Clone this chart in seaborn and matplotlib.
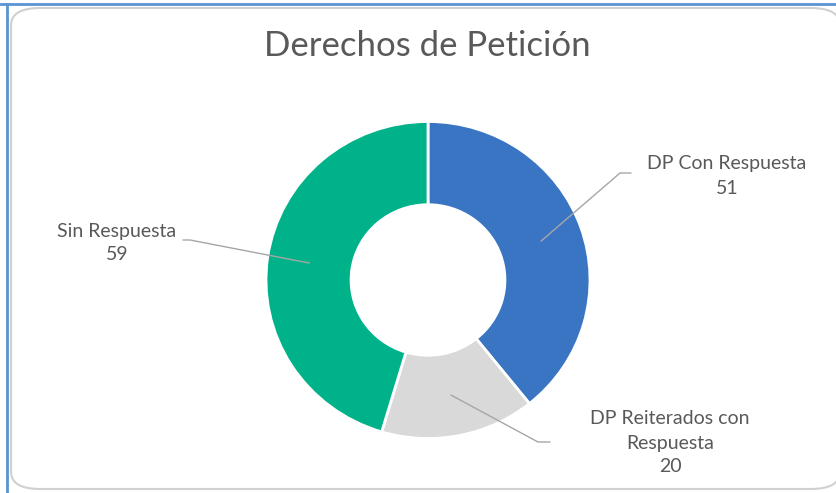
import numpy as np
import matplotlib
matplotlib.use("Agg")
import matplotlib.pyplot as plt
from matplotlib.patches import FancyBboxPatch
import seaborn as sns

# ---- data ----
categories = ["DP Con Respuesta", "DP Reiterados con\nRespuesta", "Sin Respuesta"]
values = [51, 20, 59]
colors = ["#3A75C4", "#D9D9D9", "#00B28A"]
title = "Derechos de Petición"

sns.set_theme(style="white")
plt.rcParams['font.family'] = ['Lato', 'DejaVu Sans']

W, H = 837, 493
fig = plt.figure(figsize=(W / 100, H / 100), dpi=100)
fig.patch.set_facecolor("white")

def fx(px): return px / W
def fy(py): return 1 - py / H

frame = FancyBboxPatch((fx(11), fy(489)), fx(840) - fx(11), fy(8) - fy(489),
                       boxstyle="round,pad=0,rounding_size=0.035",
                       transform=fig.transFigure, facecolor="white",
                       edgecolor="#D0D0D0", linewidth=1.5, zorder=-5)
fig.patches.append(frame)
fig.add_artist(plt.Line2D([fx(0), fx(837)], [fy(4), fy(4)], transform=fig.transFigure,
                          color="#5B93D3", linewidth=2, zorder=-4))
fig.add_artist(plt.Line2D([fx(7), fx(7)], [fy(4), fy(493)], transform=fig.transFigure,
                          color="#5B93D3", linewidth=2, zorder=-4))

# pie axes: centre at (cx, cy) pixel, 1 data unit = Rx / Ry pixels
cx, cy, Rx, Ry = 428, 280, 162, 158.5
ax = fig.add_axes([0, 0, 1, 1], zorder=2)
ax.patch.set_alpha(0)

wedges, _ = ax.pie(values, colors=colors, startangle=90, counterclock=False,
                   radius=1.0, wedgeprops=dict(width=0.525, edgecolor="white", linewidth=2))
ax.set_xlim(-cx / Rx, (W - cx) / Rx)
ax.set_ylim(-(H - cy) / Ry, cy / Ry)
ax.set_aspect("auto")
ax.axis("off")

def px2d(px, py):
    return ((px - cx) / Rx, (cy - py) / Ry)

layout = [
    dict(elbow=(620, 173), end=(631, 173), text=(727, 176)),
    dict(elbow=(538, 442), end=(550, 442), text=(670, 443)),
    dict(elbow=(190, 240), end=(183, 240), text=(117, 243)),
]
for w, cat, v, lay in zip(wedges, categories, values, layout):
    ang = np.deg2rad((w.theta1 + w.theta2) / 2)
    ax_, ay_ = 0.74 * np.cos(ang), 0.74 * np.sin(ang)
    ex, ey = px2d(*lay["elbow"])
    nx, ny = px2d(*lay["end"])
    ax.plot([ax_, ex, nx], [ay_, ey, ny], color="#A6A6A6", linewidth=1)
    tx, ty = px2d(*lay["text"])
    ax.text(tx, ty, f"{cat}\n{v}", ha="center", va="center", fontsize=14,
            color="#595959", linespacing=1.5)

fig.text(fx(427), fy(46), title, ha="center", va="center", fontsize=25,
         color="#595959")

fig.savefig("out.png", dpi=100, facecolor="white")
